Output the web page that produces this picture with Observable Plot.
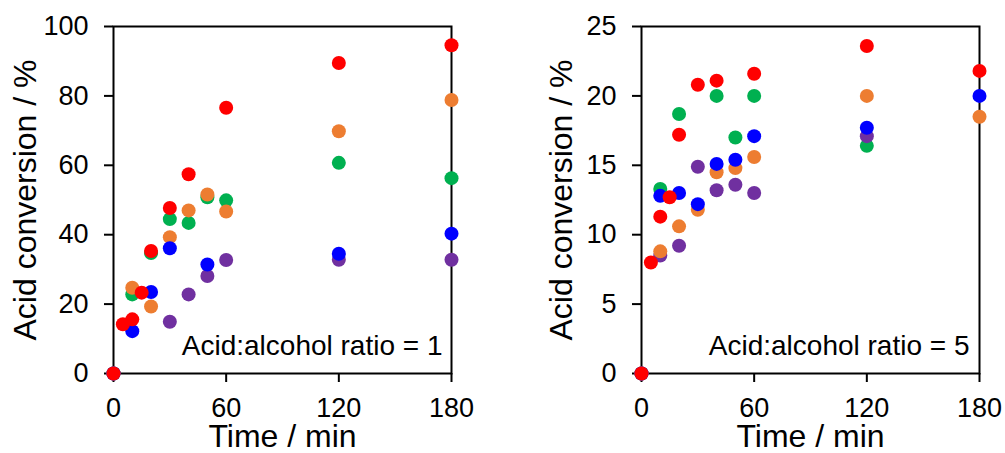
<!DOCTYPE html>
<html>
<head>
<meta charset="utf-8">
<script src="https://cdn.jsdelivr.net/npm/d3@7"></script>
<script src="https://cdn.jsdelivr.net/npm/@observablehq/plot@0.6"></script>
<style>
  html, body { margin: 0; padding: 0; background: #fff; }
  #chart { display: flex; width: 1005px; height: 453px; }
  #chart svg { overflow: visible; }
</style>
</head>
<body>
<div id="chart"></div>
<script>
// Sampling times (min)
const times = [0, 5, 10, 15, 20, 30, 40, 50, 60, 120, 180];
const timeTicks = [0, 60, 120, 180];

// Acid conversion (%) at acid:alcohol ratio = 1
const red1    = [0, 14.2, 15.6, 23.3, 35.3, 47.7, 57.4, null, 76.6, 89.5, 94.6];
const orange1 = [0, null, 24.7, null, 19.3, 39.3, 47.0, 51.6, 46.7, 69.8, 78.8];
const green1  = [0, null, 22.8, null, 34.7, 44.5, 43.4, 50.8, 49.9, 60.7, 56.3];
const blue1   = [0, null, 12.2, null, 23.5, 36.1, null, 31.4, null, 34.5, 40.3];
const purple1 = [0, null, null, null, null, 14.9, 22.8, 28.1, 32.7, 32.8, 32.8];

// Acid conversion (%) at acid:alcohol ratio = 5
const red5    = [0, 8.0, 11.3, 12.7, 17.2, 20.8, 21.1, null, 21.6, 23.6, 21.8];
const orange5 = [0, null, 8.8, null, 10.6, 11.8, 14.5, 14.8, 15.6, 20.0, 18.5];
const green5  = [0, null, 13.3, null, 18.7, null, 20.0, 17.0, 20.0, 16.4, null];
const blue5   = [0, null, 12.8, null, 13.0, 12.2, 15.1, 15.4, 17.1, 17.7, 20.0];
const purple5 = [0, null, 8.5, null, 9.2, 14.9, 13.2, 13.6, 13.0, 17.1, null];

const yTicks1 = [0, 20, 40, 60, 80, 100];
const yTicks5 = [0, 5, 10, 15, 20, 25];

// Series colours, listed in drawing order (red on top)
const seriesColors = ["#00B050", "#7030A0", "#ED7D31", "#0000FF", "#FF0000"];

const FONT = "'Liberation Sans', Arial, Helvetica, sans-serif";

function toRows(values) {
  return times.map((t, i) => ({t, v: values[i]})).filter(d => d.v != null);
}

function panel({series, yMax, yTicks, note, width, marginLeft, marginRight, titleDx, noteDx}) {
  return Plot.plot({
    width,
    height: 453,
    marginLeft,
    marginRight,
    marginTop: 26,
    marginBottom: 80,
    style: {fontFamily: FONT, fontSize: "27px", color: "#000", background: "transparent"},
    x: {domain: [0, 180]},
    y: {domain: [0, yMax]},
    marks: [
      Plot.frame({stroke: "#000", strokeWidth: 2}),
      Plot.axisX({ticks: timeTicks, tickSize: 9, tickPadding: 15, strokeWidth: 2, label: null, fontSize: 27}),
      Plot.axisY({ticks: yTicks, tickSize: 9, tickPadding: 16, strokeWidth: 2, label: null, fontSize: 27}),
      ...series.map((values, i) =>
        Plot.dot(toRows(values), {x: "t", y: "v", r: 7, fill: seriesColors[i], stroke: "none"})
      ),
      Plot.text([note], {
        frameAnchor: "bottom-right", textAnchor: "end", lineAnchor: "top",
        dx: noteDx, dy: -38, fontSize: 28, fill: "#000"
      }),
      Plot.text(["Time / min"], {
        frameAnchor: "bottom", textAnchor: "middle", lineAnchor: "top", dy: 51, fontSize: 32, fill: "#000"
      }),
      Plot.text(["Acid conversion / %"], {
        frameAnchor: "left", textAnchor: "middle", lineAnchor: "top", rotate: -90,
        dx: titleDx, fontSize: 32, fill: "#000"
      })
    ]
  });
}

const chart = document.getElementById("chart");
chart.append(panel({
  series: [green1, purple1, orange1, blue1, red1],
  yMax: 100, yTicks: yTicks1,
  note: "Acid:alcohol ratio = 1",
  width: 520, marginLeft: 113, marginRight: 69,
  titleDx: -100, noteDx: -9
}));
chart.append(panel({
  series: [green5, purple5, orange5, blue5, red5],
  yMax: 25, yTicks: yTicks5,
  note: "Acid:alcohol ratio = 5",
  width: 485, marginLeft: 121, marginRight: 26,
  titleDx: -92, noteDx: -10
}));
</script>
</body>
</html>
